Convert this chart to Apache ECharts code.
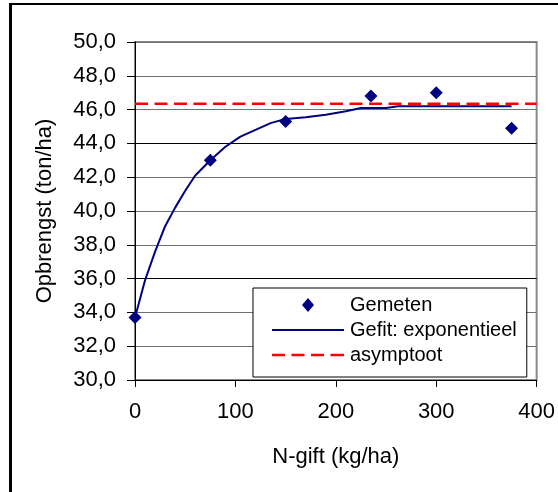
<!DOCTYPE html>
<html>
<head>
<meta charset="utf-8">
<script src="https://cdn.jsdelivr.net/npm/echarts@6/dist/echarts.min.js"></script>
<style>html,body{margin:0;padding:0;background:#fff}#c{width:558px;height:492px}</style>
</head>
<body>
<div id="c"></div>
<script>
// Measured points
const measuredX = [0, 75, 150, 235, 300, 375];
const measuredY = [33.7, 43.0, 45.3, 46.8, 47.0, 44.9];
// Fitted exponential curve
const fitX = [0, 10, 20, 30, 40, 50, 60, 75, 90, 105, 120, 135, 150, 170, 190, 210, 225, 250, 262, 300, 340, 375];
const fitY = [33.7, 35.9, 37.6, 39.1, 40.2, 41.2, 42.1, 43.0, 43.8, 44.4, 44.8, 45.2, 45.45, 45.55, 45.7, 45.9, 46.1, 46.1, 46.2, 46.2, 46.2, 46.2];
// Asymptote
const asymX = [0, 400];
const asymY = [46.35, 46.35];
// Axis ticks
const xTicks = [0, 100, 200, 300, 400];
const yTicks = [30, 32, 34, 36, 38, 40, 42, 44, 46, 48, 50];
const seriesNames = ['Gemeten', 'Gefit: exponentieel', 'asymptoot'];

const zip = (a, b) => a.map((v, i) => [v, b[i]]);
const FONT = 'Liberation Sans, Arial, sans-serif';

const diamondIcon = 'path://M6,0 L12,7 L6,14 L0,7 Z';
const solidIcon = 'path://M0,0 L72,0 L72,2 L0,2 Z';
const dashedIcon = 'path://M0,0h13v2.5h-13z M19.5,0h13v2.5h-13z M39,0h13v2.5h-13z M58.5,0h13.5v2.5h-13.5z';

const chart = echarts.init(document.getElementById('c'), null, {renderer: 'canvas'});
chart.setOption({
  animation: false,
  backgroundColor: '#fff',
  textStyle: {fontFamily: FONT},
  graphic: [
    {type: 'line', shape: {x1: 10.5, y1: 3, x2: 10.5, y2: 500}, style: {stroke: '#000', lineWidth: 3}, z: 100},
    {type: 'line', shape: {x1: 9, y1: 4, x2: 570, y2: 4}, style: {stroke: '#000', lineWidth: 2}, z: 100}
  ],
  grid: {left: 135, right: 19, top: 42, bottom: 112, show: true, borderColor: '#888', borderWidth: 2, backgroundColor: 'transparent'},
  legend: {
    orient: 'vertical', left: 253, top: 288,
    backgroundColor: '#fff', borderColor: '#000', borderWidth: 1,
    padding: [7, 10, 12, 19],
    itemWidth: 72, itemHeight: 14, itemGap: 5,
    textStyle: {fontFamily: FONT, fontSize: 20, lineHeight: 14, color: '#000', padding: [0, 0, 0, 1]},
    data: [
      {name: seriesNames[0], icon: diamondIcon, itemStyle: {color: '#000080'}},
      {name: seriesNames[1], icon: solidIcon, itemStyle: {color: '#000080'}},
      {name: seriesNames[2], icon: dashedIcon, itemStyle: {color: '#ff0000'}}
    ]
  },
  xAxis: {
    type: 'value', min: xTicks[0], max: xTicks[xTicks.length - 1], interval: 100,
    name: 'N-gift (kg/ha)', nameLocation: 'middle', nameGap: 66,
    nameTextStyle: {fontFamily: FONT, fontSize: 22, color: '#000'},
    axisLine: {show: true, lineStyle: {color: '#000', width: 1}},
    axisTick: {show: true, length: 7, lineStyle: {color: '#000'}},
    axisLabel: {fontFamily: FONT, fontSize: 22, color: '#000', margin: 21},
    splitLine: {show: false}
  },
  yAxis: {
    type: 'value', min: yTicks[0], max: yTicks[yTicks.length - 1], interval: 2,
    name: 'Opbrengst (ton/ha)', nameLocation: 'middle', nameGap: 79,
    nameTextStyle: {fontFamily: FONT, fontSize: 22, color: '#000'},
    axisLine: {show: true, lineStyle: {color: '#000', width: 1}},
    axisTick: {show: true, length: 8, lineStyle: {color: '#000'}},
    axisLabel: {fontFamily: FONT, fontSize: 22, color: '#000', margin: 19,
      formatter: v => v.toFixed(1).replace('.', ',')},
    splitLine: {show: true, lineStyle: {width: 1,
      color: ['#000', '#707070', '#707070', '#000', '#707070', '#707070', '#707070', '#000', '#707070', '#707070', '#707070']}}
  },
  series: [
    {
      name: seriesNames[0], type: 'scatter', data: zip(measuredX, measuredY),
      symbol: 'diamond', symbolSize: 13, itemStyle: {color: '#000080', opacity: 1}, z: 5
    },
    {
      name: seriesNames[1], type: 'line', data: zip(fitX, fitY), showSymbol: false, symbol: 'none',
      lineStyle: {color: '#000080', width: 2}, itemStyle: {color: '#000080'}, z: 4
    },
    {
      name: seriesNames[2], type: 'line', data: zip(asymX, asymY), showSymbol: false, symbol: 'none',
      lineStyle: {color: '#ff0000', width: 2.5, type: [13, 6.5]}, itemStyle: {color: '#ff0000'}, z: 3
    }
  ]
});
</script>
</body>
</html>
